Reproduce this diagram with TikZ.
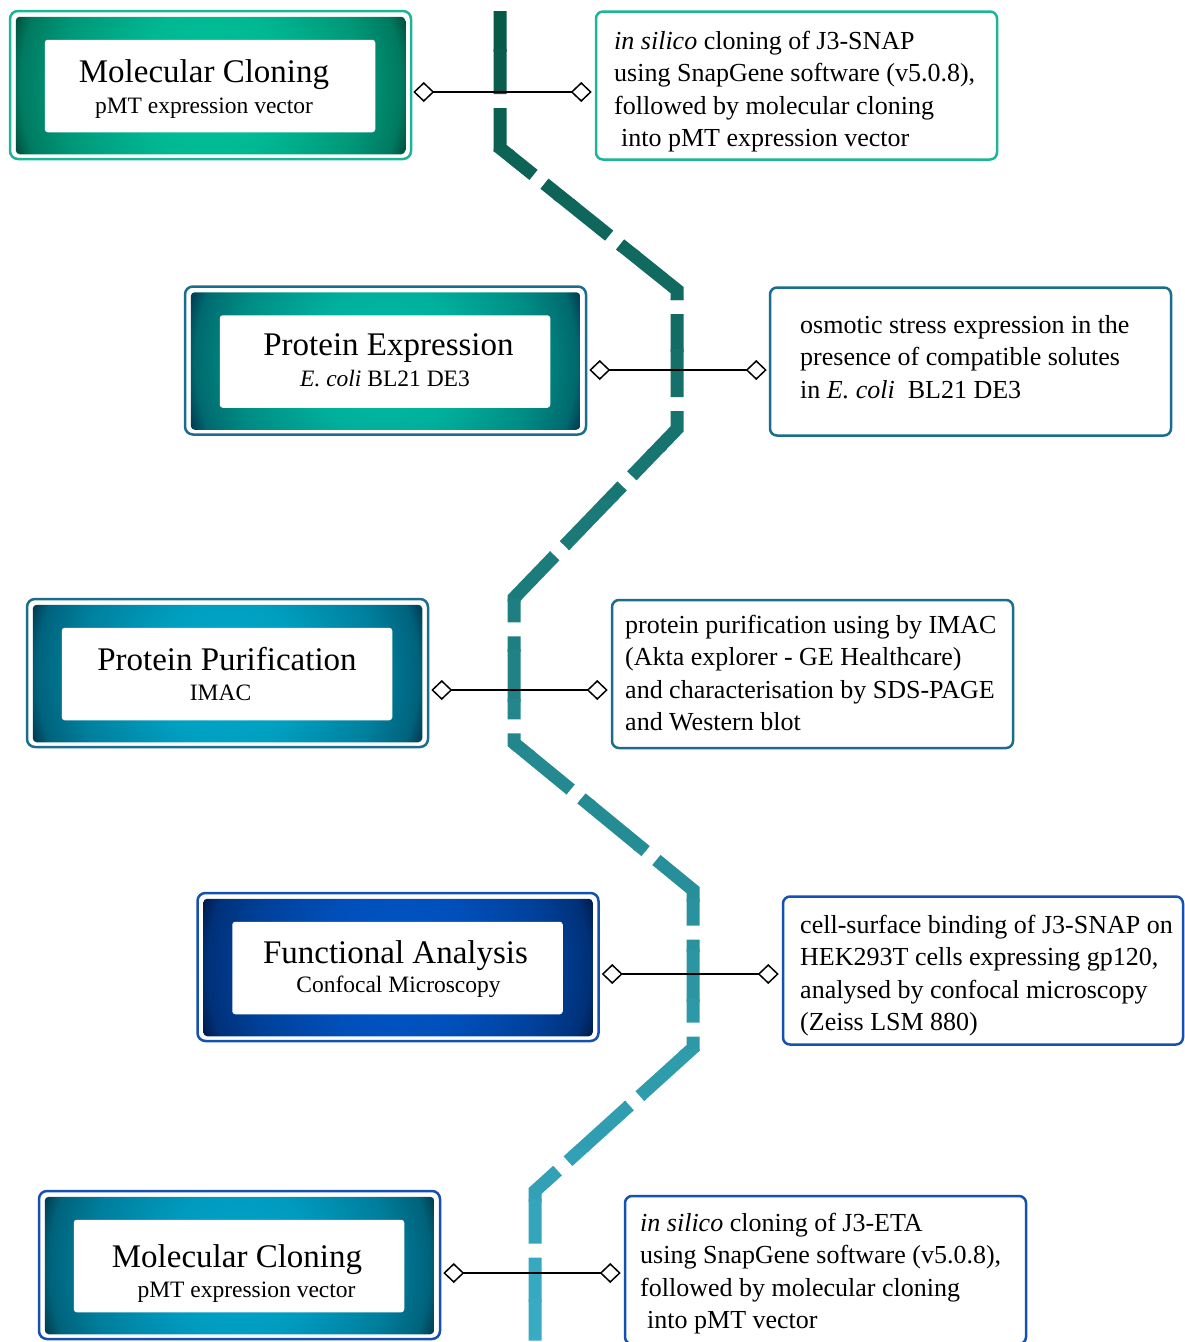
\documentclass[tikz,border=0pt]{standalone}
\usepackage{fontspec}
\setmainfont{Liberation Serif}
\usetikzlibrary{arrows.meta}
\definecolor{ptop}{RGB}{8,90,72}
\definecolor{pbot}{RGB}{58,174,200}
\definecolor{bgreen}{HTML}{1DB497}
\definecolor{bteal}{HTML}{1A6E8C}
\definecolor{bblue}{HTML}{1650B0}
\definecolor{gAin}{HTML}{00C49C}\definecolor{gAout}{HTML}{00503E}
\definecolor{gBin}{HTML}{00BDA5}\definecolor{gBout}{HTML}{003A50}
\definecolor{gCin}{HTML}{00AACC}\definecolor{gCout}{HTML}{003A50}
\definecolor{gDin}{HTML}{0056C8}\definecolor{gDout}{HTML}{001C4C}
\definecolor{gEin}{HTML}{00A6CC}\definecolor{gEout}{HTML}{003C4E}
% radial glow used at natural size (radii in bp ~ pt on the page)
\newcommand\mkglow[3]{%
  \pgfdeclareradialshading{#1}{\pgfpoint{0bp}{0bp}}{%
    color(0bp)=(#2); color(75bp)=(#2!90!#3); color(150bp)=(#2!62!#3);
    color(190bp)=(#2!36!#3); color(205bp)=(#3); color(220bp)=(#3)}}
\mkglow{glowA}{gAin}{gAout}
\mkglow{glowB}{gBin}{gBout}
\mkglow{glowC}{gCin}{gCout}
\mkglow{glowD}{gDin}{gDout}
\mkglow{glowE}{gEin}{gEout}
\newcommand\stagebox[4]{%
  \node[outerbox=#3] (#1) at #2 {};
  \begin{scope}
    \clip[rounded corners=4pt] ([shift={(7,7)}]#1.north west) rectangle ([shift={(-7,-6)}]#1.south east);
    \node[inner sep=0pt, outer sep=0pt] (#1g) at (#1.center) {\pgfuseshading{#4}};
  \end{scope}
  \fill[white, rounded corners=3pt] ([shift={(36,30)}]#1.north west) rectangle ([shift={(-37,-28)}]#1.south east);
}
\begin{document}
\begin{tikzpicture}[x=1pt,y=-1pt,
  outerbox/.style={draw=#1, line width=2.5pt, rounded corners=8pt, minimum width=401pt, minimum height=148pt, inner sep=0pt},
  descbox/.style={draw=#1, line width=2.5pt, rounded corners=7pt, minimum width=401pt, minimum height=148pt, inner sep=0pt, fill=white},
  ttl/.style={font=\fontsize{33}{40}\selectfont, inner sep=0pt, anchor=base},
  subt/.style={font=\fontsize{23.5}{28}\selectfont, inner sep=0pt, anchor=base},
  desc/.style={font=\fontsize{26}{32.5}\selectfont, inner sep=0pt, anchor=base west},
  trail/.style={line width=13pt, dash pattern=on 83pt off 14pt, line join=miter},
  conn/.style={line width=1.5pt, arrows={Diamond[open,length=21pt,width=20pt]-Diamond[open,length=21pt,width=20pt]}},
]
\useasboundingbox (0,0) rectangle (1184,1342);

% dashed trail with vertical colour gradient
\foreach \i in {0,...,27} {
  \pgfmathtruncatemacro\p{round(\i*100/27)}
  \begin{scope}
    \clip (0,\i*50-1) rectangle (1184,\i*50+51);
    \draw[trail, draw=pbot!\p!ptop] (500,11) -- (500,148) -- (677,290) -- (677,429) -- (514,598) -- (514,743) -- (693,890) -- (693,1048) -- (535,1191) -- (535,1360);
  \end{scope}
}

% stage boxes
\stagebox{L1}{(210.5,85)}{bgreen}{glowA}
\stagebox{L2}{(385.5,360.5)}{bteal}{glowB}
\stagebox{L3}{(227.5,673)}{bteal}{glowC}
\stagebox{L4}{(398,967)}{bblue}{glowD}
\stagebox{L5}{(239.5,1265)}{bblue}{glowE}

\node[ttl] (L1a) at (204,82) {Molecular Cloning};
\node[subt] (L1b) at (204,113) {pMT expression vector};
\node[ttl] (L2a) at (388.5,355) {Protein Expression};
\node[subt] (L2b) at (385,386) {\textit{E. coli} BL21 DE3};
\node[ttl] (L3a) at (227,670) {Protein Purification};
\node[subt] (L3b) at (220.5,700) {IMAC};
\node[ttl] (L4a) at (395.5,963) {Functional Analysis};
\node[subt] (L4b) at (398.5,992) {Confocal Microscopy};
\node[ttl] (L5a) at (237,1267) {Molecular Cloning};
\node[subt] (L5b) at (246.5,1297) {pMT expression vector};

% description boxes
\node[descbox=bgreen] (R1) at (796.5,85.5) {};
\node[descbox=bteal] (R2) at (970.5,361.5) {};
\node[descbox=bteal] (R3) at (812.5,674) {};
\node[descbox=bblue, minimum width=400pt] (R4) at (983,970.5) {};
\node[descbox=bblue] (R5) at (825.5,1270) {};

\node[desc] (T1) at (614,49) {\begin{tabular}[t]{@{}l@{}}\textit{in silico} cloning of J3-SNAP\\ using SnapGene software (v5.0.8),\\ followed by molecular cloning\\ \hspace*{7pt}into pMT expression vector\end{tabular}};
\node[desc] (T2) at (800,333) {\begin{tabular}[t]{@{}l@{}}osmotic stress expression in the\\ presence of compatible solutes\\ in \textit{E. coli}\ \ BL21 DE3\end{tabular}};
\node[desc] (T3) at (625,633) {\begin{tabular}[t]{@{}l@{}}protein purification using by IMAC\\ (Akta explorer - GE Healthcare)\\ and characterisation by SDS-PAGE\\ and Western blot\end{tabular}};
\node[desc] (T4) at (800,933) {\begin{tabular}[t]{@{}l@{}}cell-surface binding of J3-SNAP on\\ HEK293T cells expressing gp120,\\ analysed by confocal microscopy\\ (Zeiss LSM 880)\end{tabular}};
\node[desc] (T5) at (640,1231) {\begin{tabular}[t]{@{}l@{}}\textit{in silico} cloning of J3-ETA\\ using SnapGene software (v5.0.8),\\ followed by molecular cloning\\ \hspace*{7pt}into pMT vector\end{tabular}};

% connectors
\draw[conn, shorten <=1pt, shorten >=3pt] (L1.east |- 0,92) -- (R1.west |- 0,92);
\draw[conn, shorten <=2pt, shorten >=2pt] (L2.east |- 0,370) -- (R2.west |- 0,370);
\draw[conn, shorten <=2pt, shorten >=3pt] (L3.east |- 0,690) -- (R3.west |- 0,690);
\draw[conn, shorten <=2pt, shorten >=3pt] (L4.east |- 0,974) -- (R4.west |- 0,974);
\draw[conn, shorten <=2pt, shorten >=3pt] (L5.east |- 0,1273) -- (R5.west |- 0,1273);
\end{tikzpicture}
\end{document}
